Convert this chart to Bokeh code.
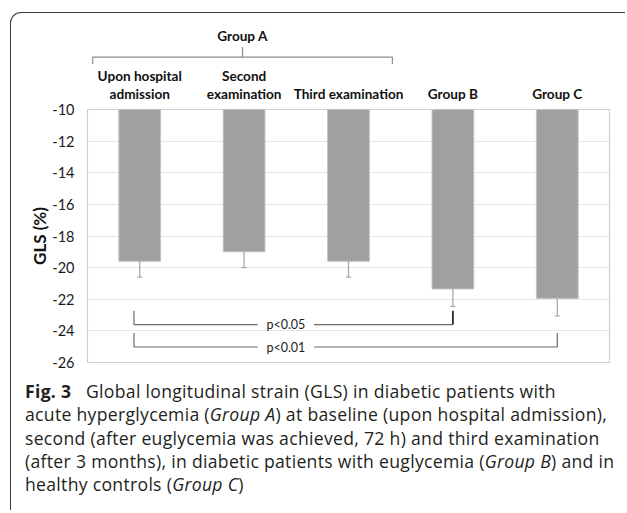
from bokeh.plotting import figure
from bokeh.models import Range1d, FixedTicker, Div, CustomJSTickFormatter
from bokeh.layouts import column
from bokeh.core.properties import value
from bokeh.embed import file_html
from bokeh.resources import INLINE

# ---------------- data ----------------
cat_line1 = ["Upon hospital", "Second", "", "", ""]
cat_line2 = ["admission", "examination", "Third examination", "Group B", "Group C"]
gls_mean = [-19.6, -19.0, -19.6, -21.35, -21.95]
gls_sd = [1.0, 1.0, 1.0, 1.1, 1.1]
y_ticks = [-26, -24, -22, -20, -18, -16, -14, -12, -10]
group_a_label = "Group A"
group_a_members = [0, 1, 2]
p_labels = ["p<0.05", "p<0.01"]
comparisons = [(0, 3), (0, 4)]

caption_html = (
    '<b>Fig.&nbsp;3</b>&nbsp;&nbsp;&nbsp;Global longitudinal strain (GLS) in diabetic patients with<br>'
    'acute hyperglycemia (<i>Group&nbsp;A</i>) at baseline (upon hospital admission),<br>'
    'second (after euglycemia was achieved, 72&nbsp;h) and third examination<br>'
    '(after 3 months), in diabetic patients with euglycemia (<i>Group&nbsp;B</i>) and in<br>'
    'healthy controls (<i>Group&nbsp;C</i>)'
)

xc = [i + 0.5 for i in range(len(gls_mean))]
LATO = value("Lato")
CAT_SIZE = "13.6px"

# ---------------- top strip (category labels + Group A bracket) ----------------
top = figure(width=600, height=88, x_range=Range1d(0, 5), y_range=Range1d(-9.46, -3.90),
             output_backend="svg", toolbar_location=None,
             x_axis_location=None, y_axis_location=None,
             min_border_left=76, min_border_right=2, min_border_top=0, min_border_bottom=0)
top.grid.visible = False
top.outline_line_color = None
top.background_fill_color = None
top.border_fill_color = None

top.text(x=xc, y=[-7.85] * 5, text=cat_line1, text_font=LATO, text_font_size=CAT_SIZE,
         text_font_style="bold", text_align="center", text_baseline="middle", text_color="#111111")
top.text(x=xc, y=[-8.99] * 5, text=cat_line2, text_font=LATO, text_font_size=CAT_SIZE,
         text_font_style="bold", text_align="center", text_baseline="middle", text_color="#111111")

gx0 = group_a_members[0] + 0.05
gx1 = group_a_members[-1] + 0.92
gmid = (xc[group_a_members[0]] + xc[group_a_members[-1]]) / 2 - 0.015
top.multi_line(xs=[[gx0, gx0, gx1, gx1], [gmid, gmid]],
               ys=[[-7.09, -6.65, -6.65, -7.09], [-6.65, -6.02]],
               line_color="#8c8c8c", line_width=1.2)
top.text(x=[gmid], y=[-5.35], text=[group_a_label], text_font=LATO, text_font_size=CAT_SIZE,
         text_font_style="bold", text_align="center", text_baseline="middle", text_color="#111111")

# ---------------- main chart ----------------
p = figure(width=600, height=269, x_range=Range1d(0, 5), y_range=Range1d(-26, -10),
           output_backend="svg", toolbar_location=None, x_axis_location=None,
           min_border_left=76, min_border_right=2, min_border_top=8, min_border_bottom=8)
p.background_fill_color = "white"
p.border_fill_color = None
p.outline_line_color = "#cfcfcf"
p.outline_line_width = 1.2
p.xgrid.visible = False
p.ygrid.grid_line_color = "#e6e6e6"
p.ygrid.grid_line_width = 1
p.ygrid.ticker = FixedTicker(ticks=y_ticks)

ax = p.yaxis[0]
ax.ticker = FixedTicker(ticks=y_ticks)
ax.formatter = CustomJSTickFormatter(code="return String(tick);")
ax.axis_line_color = None
ax.major_tick_line_color = None
ax.minor_tick_line_color = None
ax.major_label_standoff = 7
ax.major_label_text_font = "Lato"
ax.major_label_text_font_size = "14.5px"
ax.major_label_text_color = "#1a1a1a"
ax.axis_label = "GLS (%)"
ax.axis_label_text_font = "Lato"
ax.axis_label_text_font_size = "17px"
ax.axis_label_text_font_style = "bold"
ax.axis_label_text_color = "#111111"
ax.axis_label_standoff = -1

p.vbar(x=xc, width=0.4, top=[-10] * 5, bottom=gls_mean,
       fill_color="#a0a0a0", line_color="#c4c4c4", line_width=1)

err_low = [m - s for m, s in zip(gls_mean, gls_sd)]
p.segment(x0=xc, y0=gls_mean, x1=xc, y1=err_low, line_color="#a8a8a8", line_width=1.3)
p.segment(x0=[x - 0.024 for x in xc], y0=err_low, x1=[x + 0.024 for x in xc], y1=err_low,
          line_color="#a8a8a8", line_width=1.3)

# significance brackets
tips = [(-22.72, -23.6), (-24.13, -25.02)]
text_x = 1.9
gap = 0.27
for (i, j), lab, (ytip, ylev) in zip(comparisons, p_labels, tips):
    xl = xc[i] - 0.055
    xr = xc[j]
    p.multi_line(xs=[[xl, xl, text_x - gap], [text_x + gap, xr]],
                 ys=[[ytip, ylev, ylev], [ylev, ylev]],
                 line_color="#6a6a6a", line_width=1.2)
    p.segment(x0=[xr], y0=[ylev], x1=[xr], y1=[ytip],
              line_color="#111111" if j == 3 else "#6a6a6a",
              line_width=1.6 if j == 3 else 1.2)
    p.text(x=[text_x], y=[ylev], text=[lab], text_font=LATO, text_font_size="12.5px",
           text_align="center", text_baseline="middle", text_color="#222222")

# ---------------- caption ----------------
cap = Div(text='<div style="font-family:\'Open Sans\',sans-serif;font-size:17.6px;line-height:23.3px;'
               'letter-spacing:0.3px;color:#231f20;white-space:nowrap;padding:10px 0 0 14px;">'
               + caption_html + '</div>',
          width=614, height=140, margin=(0, 0, 0, 0))

layout = column(top, p, cap, margin=(12, 0, 0, 10), spacing=0,
                styles={"border-top": "1.5px solid #3c3c3c", "border-left": "1.5px solid #3c3c3c",
                        "border-top-left-radius": "11px"})

open("out.html", "w").write(file_html(layout, INLINE))
